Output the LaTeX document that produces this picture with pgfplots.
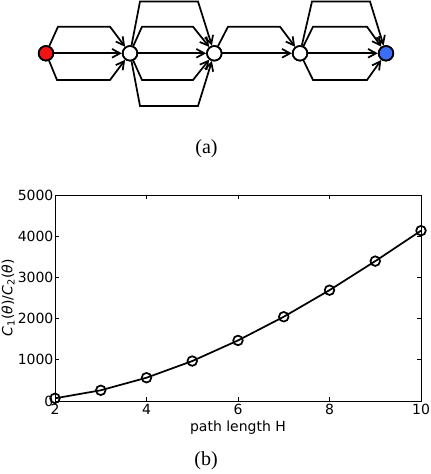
\documentclass[border=0pt]{standalone}
\usepackage{pgfplots}
\pgfplotsset{compat=1.18}
\usetikzlibrary{arrows.meta}
\usepackage{fontspec}
\setmainfont{DejaVu Sans}
\newfontfamily\timesfont{Liberation Serif}
\definecolor{srcred}{RGB}{240,20,20}
\definecolor{dstblue}{RGB}{60,110,245}

\begin{document}
\begin{tikzpicture}
    \path[use as bounding box] (0,0) rectangle (322.5pt,-355.5pt);

    % graph of paths, drawn in pixel units of the reference
    \begin{scope}[x=0.75pt,y=-0.75pt,
        edge/.style={line width=1.3pt,-{Straight Barb[length=6pt,width=6.5pt]}},
        vtx/.style={circle,draw,line width=1.2pt,minimum size=11pt,inner sep=0pt}]
        \node[vtx,fill=srcred] (n1) at (46,53.3) {};
        \node[vtx,fill=white] (n2) at (130,53.3) {};
        \node[vtx,fill=white] (n3) at (214.3,53.3) {};
        \node[vtx,fill=white] (n4) at (300,53.3) {};
        \node[vtx,fill=dstblue] (n5) at (386,53.3) {};

        \draw[edge] (n1) -- (n2);
        \draw[edge] (n1) -- (58,26.7) -- (110,26.7) -- (n2);
        \draw[edge] (n1) -- (57,80) -- (110,80) -- (n2);

        \draw[edge] (n2) -- (n3);
        \draw[edge] (n2) -- (142,26.7) -- (193,26.7) -- (n3);
        \draw[edge] (n2) -- (142,80) -- (193,80) -- (n3);
        \draw[edge] (n2) -- (140,1.5) -- (198,1.5) -- (n3);
        \draw[edge] (n2) -- (140,106) -- (198,106) -- (n3);

        \draw[edge] (n3) -- (n4);
        \draw[edge] (n3) -- (228,26.7) -- (280,26.7) -- (n4);

        \draw[edge] (n4) -- (n5);
        \draw[edge] (n4) -- (313,26.7) -- (367,26.7) -- (n5);
        \draw[edge] (n4) -- (312,1.5) -- (370,1.5) -- (n5);
        \draw[edge] (n4) -- (313,80) -- (367,80) -- (n5);

        \foreach \n in {n1,n2,n3,n4,n5} {
            \node[vtx] at (\n) {};
        }

        \node[font=\timesfont\fontsize{15}{17}\selectfont] at (206.5,149) {(a)};
        \node[font=\timesfont\fontsize{15}{17}\selectfont] at (206,461) {(b)};
    \end{scope}

    \begin{axis}[
        at={(41.25pt,-300.75pt)},anchor=south west,
        scale only axis,
        width=274.5pt,height=154.5pt,
        xmin=2,xmax=10,
        ymin=0,ymax=5000,
        xtick={2,4,6,8,10},
        ytick={0,1000,2000,3000,4000,5000},
        scaled ticks=false,
        /pgf/number format/1000 sep={},
        /pgf/number format/assume math mode=true,
        tick align=inside,
        major tick length=3pt,
        tick style={black,line width=0.6pt},
        axis line style={line width=0.7pt},
        ticklabel style={font=\fontsize{10.5}{12}\selectfont},
        yticklabel style={inner xsep=1pt},
        xticklabel style={inner ysep=2pt},
        label style={font=\fontsize{10.5}{12}\selectfont},
        xlabel={path length H},
        xlabel style={at={(axis description cs:0.5,0)},anchor=north,yshift=-11pt},
        ylabel={\textit{C}\textsubscript{1}(\textit{θ})/\textit{C}\textsubscript{2}(\textit{θ})},
        ylabel style={at={(axis description cs:-0.128,0.5)},anchor=center},
    ]
        \addplot[black,line width=1.3pt,mark=o,mark size=3.6pt,
                 mark options={line width=1.3pt}]
            coordinates {
                (2,65) (3,260) (4,565) (5,970) (6,1470)
                (7,2045) (8,2690) (9,3395) (10,4135)
            };
    \end{axis}
\end{tikzpicture}
\end{document}
